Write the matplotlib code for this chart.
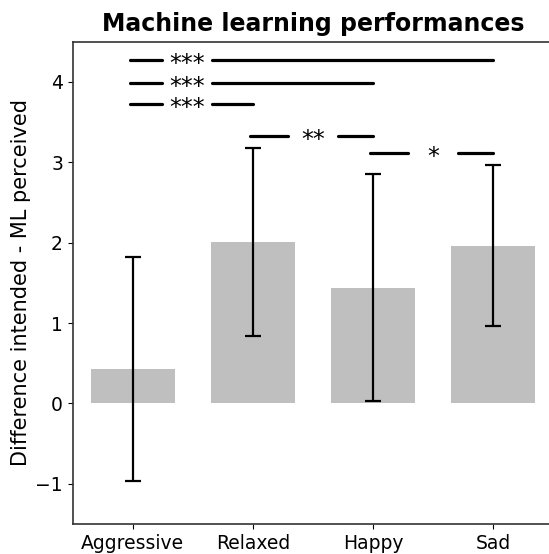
import matplotlib
matplotlib.use("Agg")
import matplotlib.pyplot as plt
import matplotlib.transforms as mtransforms
from matplotlib.textpath import TextPath
from matplotlib.font_manager import FontProperties
import numpy as np

categories = ["Aggressive", "Relaxed", "Happy", "Sad"]
means = [0.43, 2.01, 1.44, 1.96]
sds = [1.39, 1.17, 1.41, 1.00]

# significance comparisons: (start idx, end idx, height, label, label x)
comp_x1 = [0, 0, 0, 1, 2]
comp_x2 = [3, 2, 1, 2, 3]
comp_y = [4.27, 3.99, 3.72, 3.33, 3.11]
comp_lbl = ["***", "***", "***", "**", "*"]
comp_tx = [0.45, 0.45, 0.45, 1.5, 2.5]

fig = plt.figure(figsize=(5.49, 5.54), dpi=100)
ax = fig.add_axes([72.7/549, 1-524/554, (553-72.7)/549, (524-41.7)/554])

x = np.arange(len(categories))
ax.bar(x, means, width=0.7, color="#bfbfbf")
ax.errorbar(x, means, yerr=sds, fmt="none", ecolor="black", elinewidth=1.6,
            capsize=6, capthick=1.6)

star_fs = 17
fp = FontProperties(family="DejaVu Sans", size=star_fs)
ext = TextPath((0, 0), "*", prop=fp).get_extents()
yc = (ext.y0 + ext.y1) / 2.0  # ink centre above baseline, points
off = mtransforms.offset_copy(ax.transData, fig=fig, x=0, y=-yc + 0.8, units="points")
for x1, x2, y, lbl, tx in zip(comp_x1, comp_x2, comp_y, comp_lbl, comp_tx):
    ax.plot([x1 - 0.02, tx - 0.21], [y, y], color="black", lw=2.3, solid_capstyle="round")
    ax.plot([tx + 0.21, x2], [y, y], color="black", lw=2.3, solid_capstyle="round")
    ax.text(tx, y, lbl, ha="center", va="baseline", fontproperties=fp, transform=off)

ax.set_xlim(-0.5, 3.5)
ax.set_ylim(-1.5, 4.5)
ax.set_xticks(x)
ax.set_xticklabels(categories, fontsize=13.5)
ax.set_yticks([-1, 0, 1, 2, 3, 4])
ax.set_yticklabels(["\u22121", "0", "1", "2", "3", "4"], fontsize=13.5)
ax.set_ylabel("Difference intended - ML perceived", fontsize=15, labelpad=3)
ax.set_title("Machine learning performances", fontsize=17, fontweight="bold", pad=8)
for s in ax.spines.values():
    s.set_color("#333333")
    s.set_linewidth(1.2)

fig.savefig("out.png", dpi=100)
